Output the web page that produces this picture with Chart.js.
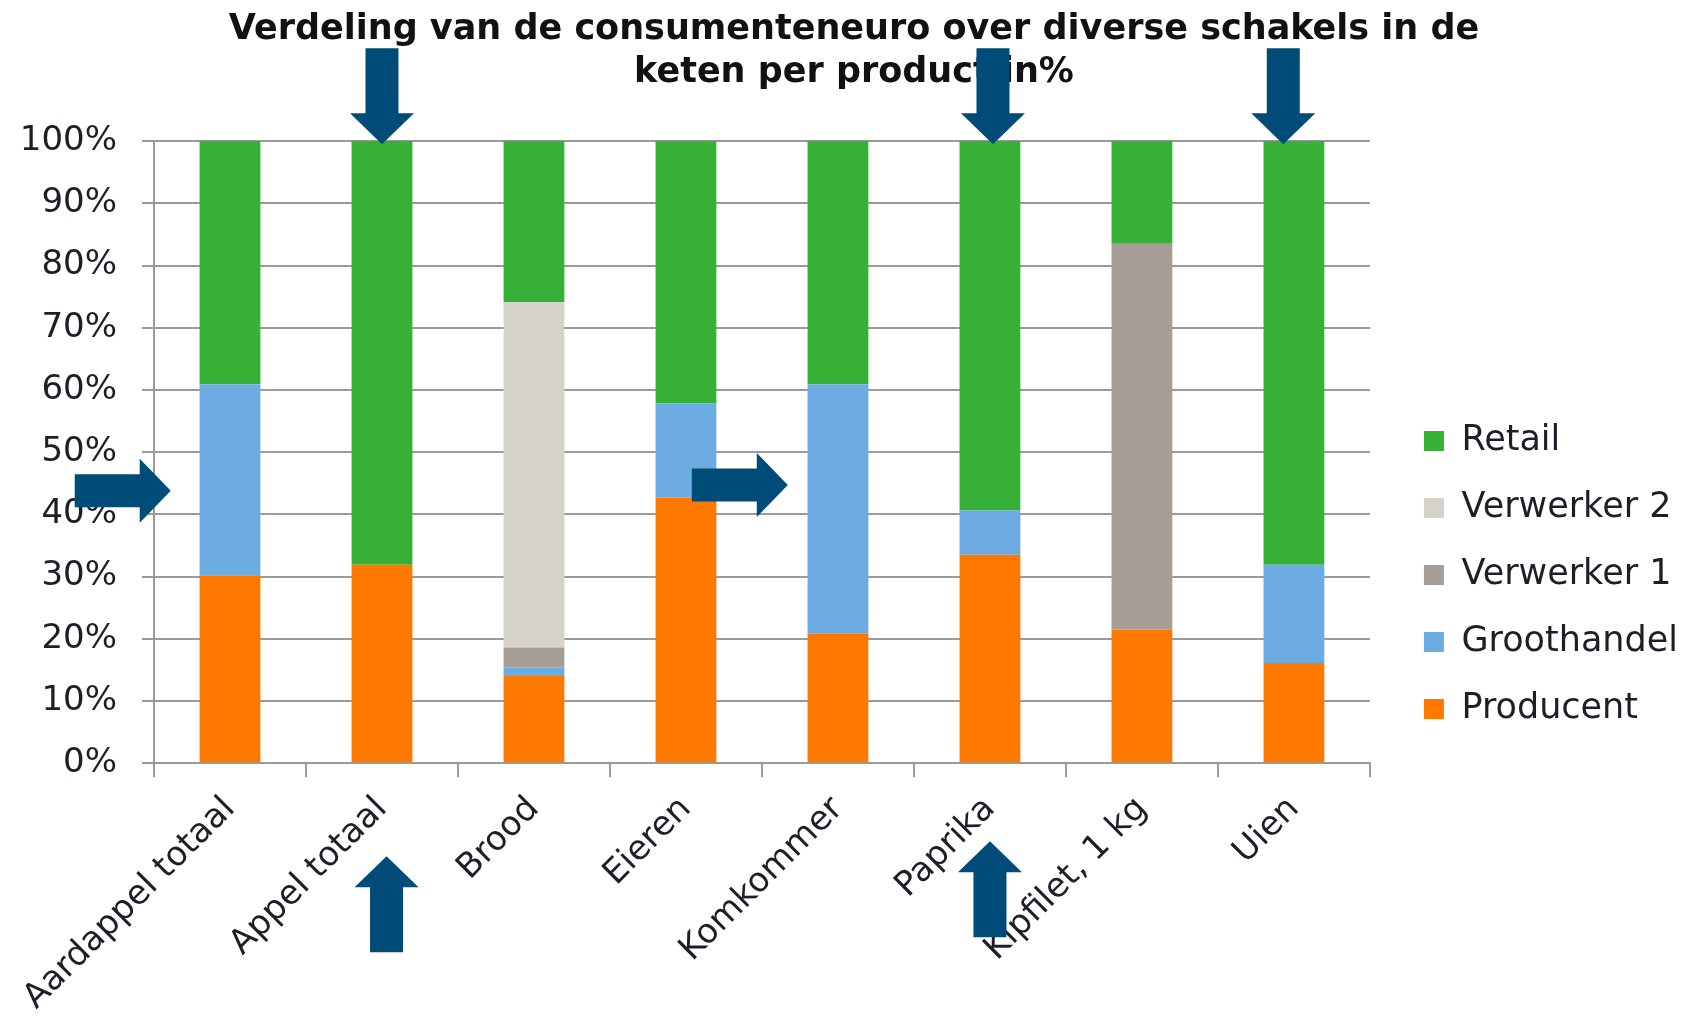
<!DOCTYPE html>
<html>
<head>
<meta charset="utf-8">
<title>Verdeling consumenteneuro</title>
<script src="https://cdn.jsdelivr.net/npm/chart.js@4.4.1/dist/chart.umd.min.js"></script>
<style>
  html, body { margin: 0; padding: 0; background: #fff; }
  #wrap { width: 1688px; height: 1018px; }
</style>
</head>
<body>
<div id="wrap"><canvas id="keten"></canvas></div>
<script>
var producten = ['Aardappel totaal', 'Appel totaal', 'Brood', 'Eieren', 'Komkommer', 'Paprika', 'Kipfilet, 1 kg', 'Uien'];

var producent   = [30.2, 31.9, 14.0, 42.7, 20.8, 33.5, 21.5, 16.1];
var groothandel = [30.7, 0,    1.4,  15.1, 40.1, 7.1,  0,    15.8];
var verwerker1  = [0,    0,    3.2,  0,    0,    0,    62.0, 0];
var verwerker2  = [0,    0,    55.5, 0,    0,    0,    0,    0];
var retail      = [39.1, 68.1, 25.9, 42.2, 39.1, 59.4, 16.5, 68.1];

var yTicks = [0, 10, 20, 30, 40, 50, 60, 70, 80, 90, 100];

// pijlen die over de grafiek zijn geplakt: x in categorie-index, y in % (of px onder de as)
var pijlen = [
    {dir: 'down',  x: 1,    y: 99.5},
    {dir: 'down',  x: 5.02, y: 99.5},
    {dir: 'down',  x: 6.93, y: 99.5},
    {dir: 'right', x: -0.39, y: 43.8},
    {dir: 'right', x: 3.67,  y: 44.7},
    {dir: 'up',    x: 1.03, below: 93},
    {dir: 'up',    x: 5.0,  below: 78}
];

var arrowPlugin = {
    id: 'pijlen',
    afterDraw: function(chart) {
        var ctx = chart.ctx;
        var xs = chart.scales.x, ys = chart.scales.y;
        var step = xs.getPixelForValue(1) - xs.getPixelForValue(0);
        var len = 96, shaft = 16.5, head = 32, headLen = 31;
        ctx.save();
        ctx.fillStyle = 'rgb(0,76,120)';
        pijlen.forEach(function(p) {
            var tx = xs.getPixelForValue(0) + p.x * step;
            var ty = p.below !== undefined ? ys.getPixelForValue(0) + p.below : ys.getPixelForValue(p.y);
            // punt op (0,0), staart naar links, dan draaien
            ctx.save();
            ctx.translate(tx, ty);
            if (p.dir == 'down') ctx.rotate(Math.PI / 2);
            if (p.dir == 'up') ctx.rotate(-Math.PI / 2);
            ctx.beginPath();
            ctx.moveTo(0, 0);
            ctx.lineTo(-headLen, -head);
            ctx.lineTo(-headLen, -shaft);
            ctx.lineTo(-len, -shaft);
            ctx.lineTo(-len, shaft);
            ctx.lineTo(-headLen, shaft);
            ctx.lineTo(-headLen, head);
            ctx.closePath();
            ctx.fill();
            ctx.restore();
        });
        ctx.restore();
    }
};

var ctx = document.getElementById('keten').getContext('2d');
var chart = new Chart(ctx, {
    type: 'bar',
    data: {
        labels: producten,
        datasets: [
            {label: 'Producent',   data: producent,   backgroundColor: 'rgb(255,120,0)'},
            {label: 'Groothandel', data: groothandel, backgroundColor: 'rgb(108,172,226)'},
            {label: 'Verwerker 1', data: verwerker1,  backgroundColor: 'rgb(166,157,150)'},
            {label: 'Verwerker 2', data: verwerker2,  backgroundColor: 'rgb(213,210,202)'},
            {label: 'Retail',      data: retail,      backgroundColor: 'rgb(54,176,55)'}
        ]
    },
    options: {
        responsive: true,
        maintainAspectRatio: false,
        animation: false,
        datasets: {
            bar: {barPercentage: 0.4, categoryPercentage: 1.0, borderWidth: 0}
        },
        layout: {padding: {left: 20, right: 0, top: 0, bottom: 0}},
        scales: {
            x: {
                stacked: true,
                grid: {display: true, drawOnChartArea: false, color: '#9a9a9a', lineWidth: 2, tickLength: 14},
                border: {display: true, color: '#9a9a9a', width: 2},
                ticks: {
                    color: '#1e1e28',
                    font: {family: 'DejaVu Sans', size: 34},
                    maxRotation: 45, minRotation: 45,
                    padding: 12,
                    autoSkip: false
                },
                afterFit: function(axis) {
                    axis.paddingLeft = 0;
                    axis.height = axis.height - 12;
                }
            },
            y: {
                stacked: true,
                min: 0, max: 100,
                afterBuildTicks: function(axis) {
                    axis.ticks = yTicks.map(function(v) { return {value: v}; });
                },
                afterFit: function(axis) { axis.width = 134; },
                grid: {color: '#9a9a9a', lineWidth: 2, tickLength: 12},
                border: {display: true, color: '#9a9a9a', width: 2},
                ticks: {
                    color: '#1e1e28',
                    font: {family: 'DejaVu Sans', size: 34},
                    padding: 25,
                    callback: function(v) { return v + '%'; }
                }
            },
            // onzichtbare as rechts, alleen voor ruimte tussen plot en legenda
            ruimte: {
                position: 'right',
                display: false,
                afterFit: function(axis) { axis.width = 22; }
            }
        },
        plugins: {
            title: {
                display: true,
                text: ['Verdeling van de consumenteneuro over diverse schakels in de', 'keten per product in%'],
                color: '#111',
                font: {family: 'DejaVu Sans', size: 35, weight: 'bold', lineHeight: 1.23},
                padding: {top: 8, bottom: 47}
            },
            legend: {
                position: 'right',
                reverse: true,
                title: {display: true, text: ' ', padding: 60, font: {size: 10}},
                labels: {
                    color: '#1e1e28',
                    font: {family: 'DejaVu Sans', size: 35},
                    boxWidth: 20,
                    boxHeight: 20,
                    padding: 32
                }
            },
            tooltip: {enabled: false}
        }
    },
    plugins: [arrowPlugin]
});
</script>
</body>
</html>
